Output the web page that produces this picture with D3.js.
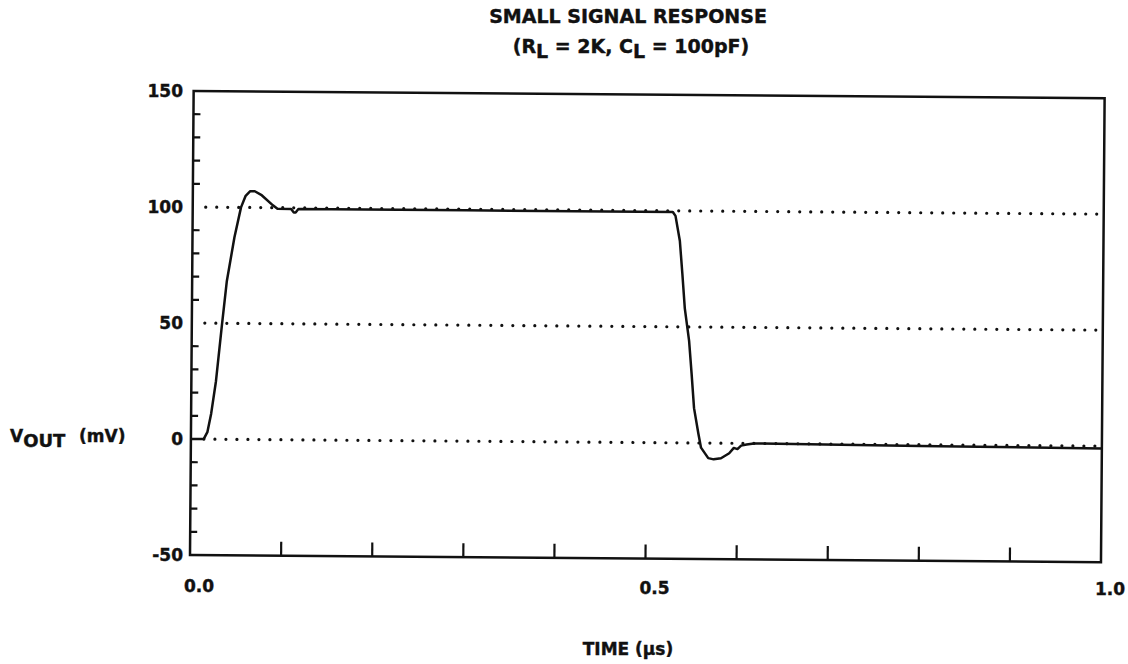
<!DOCTYPE html>
<html>
<head>
<meta charset="utf-8">
<script src="https://cdn.jsdelivr.net/npm/d3@7"></script>
<style>
  body { margin: 0; background: #fff; }
  svg { display: block; }
  text { font-family: "DejaVu Sans", sans-serif; font-weight: bold; fill: #111; stroke: #111; stroke-width: 0.4; }
</style>
</head>
<body>
<div id="chart"></div>
<script>
// values
const timeUs = [0, 0.014, 0.018, 0.022, 0.027, 0.033, 0.038, 0.046, 0.053, 0.058, 0.063, 0.068, 0.075, 0.088, 0.093, 0.108, 0.111, 0.113, 0.116, 0.30, 0.527,
  0.530, 0.535, 0.538, 0.541, 0.546, 0.549, 0.552, 0.557, 0.560, 0.568, 0.574, 0.582, 0.591, 0.596, 0.600, 0.604, 0.610, 0.618, 0.80, 1.0];
const vOut = [0, 0, 3, 11, 25, 49, 68, 87, 100, 105, 107, 107, 105.5, 101, 99.5, 99.5, 98, 98, 99.5, 99.5, 99.5,
  97.8, 87, 73, 58, 44, 30, 15, 4, -2, -6.5, -7, -6.5, -4.3, -2, -2.5, -1, -0.5, 0, -0.5, -1];
const gridLevels = [0, 50, 100];
const yTickLabels = [-50, 0, 50, 100, 150];
const xTickLabels = [0, 0.5, 1.0];

const width = 1128, height = 664;
const svg = d3.select("#chart").append("svg")
  .attr("width", width)
  .attr("height", height);

const x = d3.scaleLinear().domain([0, 1]).range([190, 1101]);
const y = d3.scaleLinear().domain([-50, 150]).range([555, 91]);

// the scan is a little tilted, so the plot box is too
const plot = svg.append("g")
  .attr("transform", `rotate(0.45, ${x(0)}, ${y(-50)})`);

// dotted reference lines
gridLevels.forEach(v => {
  plot.append("line")
    .attr("x1", 203).attr("x2", 1095)
    .attr("y1", y(v)).attr("y2", y(v))
    .attr("stroke", "#111")
    .attr("stroke-width", 3.2)
    .attr("stroke-linecap", "round")
    .attr("stroke-dasharray", "0 11");
});

// frame
plot.append("rect")
  .attr("x", x(0)).attr("y", y(150))
  .attr("width", x(1) - x(0)).attr("height", y(-50) - y(150))
  .attr("fill", "none")
  .attr("stroke", "#111")
  .attr("stroke-width", 2.5);

// minor y ticks every 10 mV, pointing in
const yMinor = d3.range(-40, 150, 10).filter(v => v % 50 !== 0);
plot.selectAll(".ytick").data(yMinor).enter().append("line")
  .attr("x1", x(0)).attr("x2", x(0) + 7)
  .attr("y1", d => y(d)).attr("y2", d => y(d))
  .attr("stroke", "#111").attr("stroke-width", 2.2);

// x ticks every 0.1 us, pointing up
const xMinor = d3.range(1, 10).map(i => i / 10);
plot.selectAll(".xtick").data(xMinor).enter().append("line")
  .attr("x1", d => x(d)).attr("x2", d => x(d))
  .attr("y1", y(-50)).attr("y2", y(-50) - 14)
  .attr("stroke", "#111").attr("stroke-width", 2.2);

// response curve
const line = d3.line()
  .x((d, i) => x(timeUs[i]))
  .y(d => y(d));
plot.append("path")
  .datum(vOut)
  .attr("d", line)
  .attr("fill", "none")
  .attr("stroke", "#111")
  .attr("stroke-width", 2.5)
  .attr("stroke-linejoin", "round");

// tick labels
svg.selectAll(".ylab").data(yTickLabels).enter().append("text")
  .attr("x", 183)
  .attr("y", d => y(d) + 6)
  .attr("text-anchor", "end")
  .attr("font-size", 17)
  .text(d => d < 0 ? "-" + Math.abs(d) : d);

svg.selectAll(".xlab").data(xTickLabels).enter().append("text")
  .attr("x", d => x(d) + 9)
  .attr("y", (d, i) => 592 + i * 1.5)
  .attr("text-anchor", "middle")
  .attr("font-size", 17)
  .text(d => d3.format(".1f")(d));

// title
svg.append("text")
  .attr("x", 628).attr("y", 23)
  .attr("text-anchor", "middle")
  .attr("font-size", 19)
  .text("SMALL SIGNAL RESPONSE");

const sub = svg.append("text")
  .attr("x", 631).attr("y", 53)
  .attr("text-anchor", "middle")
  .attr("font-size", 19);
sub.append("tspan").text("(R");
sub.append("tspan").attr("dy", 5).text("L");
sub.append("tspan").attr("dy", -5).text(" = 2K, C");
sub.append("tspan").attr("dy", 5).text("L");
sub.append("tspan").attr("dy", -5).text(" = 100pF)");

// axis titles
const yt = svg.append("text")
  .attr("x", 10).attr("y", 442)
  .attr("font-size", 17);
yt.append("tspan").text("V");
yt.append("tspan").attr("dy", 5).attr("font-size", 18).text("OUT");
yt.append("tspan").attr("x", 79).attr("dy", -5).attr("font-size", 17).text("(mV)");

svg.append("text")
  .attr("x", 628).attr("y", 655)
  .attr("text-anchor", "middle")
  .attr("font-size", 17)
  .text("TIME (\u03bcs)");
</script>
</body>
</html>
